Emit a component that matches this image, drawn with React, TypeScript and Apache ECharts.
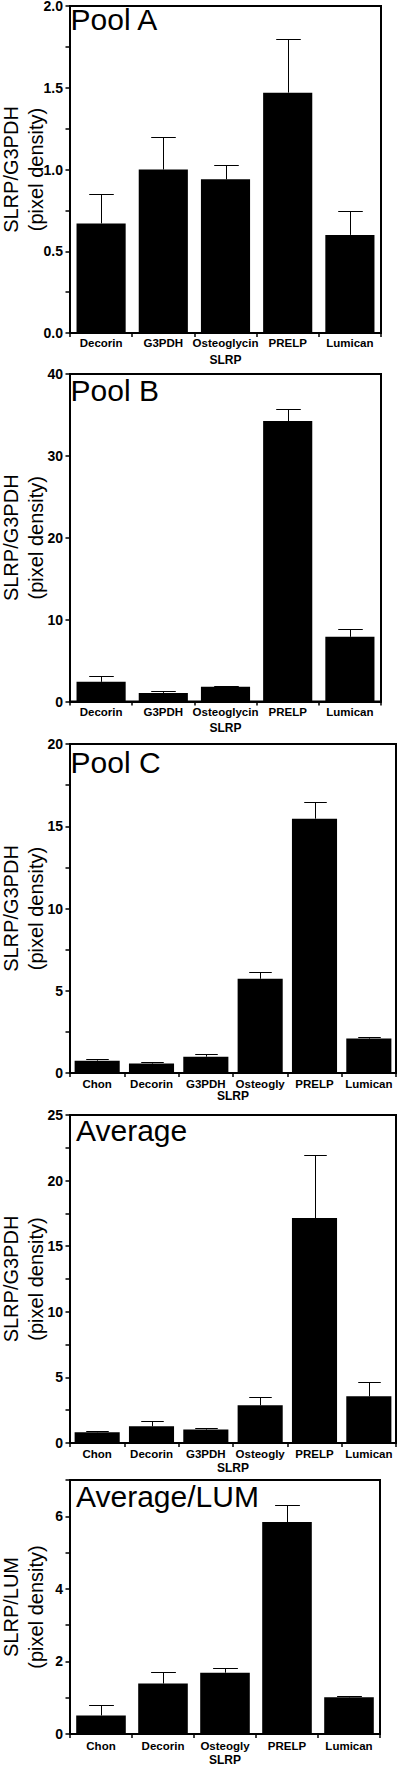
import React, { useEffect, useRef } from "react";
import * as echarts from "echarts";

const FONT = "'Liberation Sans', Arial, Helvetica, sans-serif";

// ---- data ----
const catsA = ["Decorin", "G3PDH", "Osteoglycin", "PRELP", "Lumican"];
const meanA = [0.67, 1.0, 0.94, 1.47, 0.6];
const semA = [0.18, 0.2, 0.085, 0.33, 0.145];

const catsB = ["Decorin", "G3PDH", "Osteoglycin", "PRELP", "Lumican"];
const meanB = [2.4, 1.05, 1.8, 34.25, 7.9];
const semB = [0.7, 0.2, 0.12, 1.45, 0.95];

const catsC = ["Chon", "Decorin", "G3PDH", "Osteogly", "PRELP", "Lumican"];
const meanC = [0.75, 0.57, 0.99, 5.73, 15.46, 2.09];
const semC = [0.1, 0.1, 0.16, 0.41, 1.01, 0.1];

const catsAvg = ["Chon", "Decorin", "G3PDH", "Osteogly", "PRELP", "Lumican"];
const meanAvg = [0.82, 1.27, 1.02, 2.87, 17.14, 3.56];
const semAvg = [0.07, 0.37, 0.15, 0.67, 4.78, 1.12];

const catsLum = ["Chon", "Decorin", "Osteogly", "PRELP", "Lumican"];
const meanLum = [0.51, 1.39, 1.69, 5.84, 1.01];
const semLum = [0.3, 0.32, 0.13, 0.46, 0.04];

const titles = ["Pool A", "Pool B", "Pool C", "Average", "Average/LUM"];
const yNameTop = ["SLRP/G3PDH", "SLRP/G3PDH", "SLRP/G3PDH", "SLRP/G3PDH", "SLRP/LUM"];
const yNameBottom = "(pixel density)";
const xName = "SLRP";

// axis scales
const yMax = [2, 40, 20, 25, 7];
const yStep = [0.25, 10, 2.5, 2.5, 1];
const yLabelStep = [0.5, 10, 5, 5, 2];
const yDecimals = [1, 0, 0, 0, 0];

// ---- layout ----
const panels = [
  { cats: catsA, mean: meanA, sem: semA, left: 70, top: 6, width: 311, height: 327, barW: 0.79, labelMargin: 4, nameGap: 20.5, titleX: 70.5, titleY: 4.3 },
  { cats: catsB, mean: meanB, sem: semB, left: 70, top: 374, width: 311, height: 327.5, barW: 0.79, labelMargin: 4, nameGap: 20.5, titleX: 70.5, titleY: 375 },
  { cats: catsC, mean: meanC, sem: semC, left: 70, top: 744, width: 326, height: 329, barW: 0.83, labelMargin: 5, nameGap: 16.5, titleX: 70.5, titleY: 747.6 },
  { cats: catsAvg, mean: meanAvg, sem: semAvg, left: 70, top: 1115, width: 326, height: 328, barW: 0.83, labelMargin: 5, nameGap: 18.5, titleX: 76, titleY: 1115.3 },
  { cats: catsLum, mean: meanLum, sem: semLum, left: 70, top: 1480, width: 310, height: 254, barW: 0.8, labelMargin: 5.5, nameGap: 19.5, titleX: 76, titleY: 1481 },
];

function buildOption() {
  const grid: any[] = [];
  const xAxis: any[] = [];
  const yAxis: any[] = [];
  const series: any[] = [];
  const graphic: any[] = [];

  panels.forEach((p, i) => {
    grid.push({
      left: p.left,
      top: p.top,
      width: p.width,
      height: p.height,
      show: true,
      borderColor: "#000",
      borderWidth: 2,
      backgroundColor: "transparent",
      containLabel: false,
      outerBoundsMode: "none",
    });
    xAxis.push({
      type: "category",
      gridIndex: i,
      data: p.cats,
      boundaryGap: true,
      axisLine: { show: true, lineStyle: { color: "#000", width: 2 } },
      axisTick: { show: true, length: 4, lineStyle: { color: "#000", width: 1.5 } },
      axisLabel: {
        interval: 0,
        color: "#000",
        fontSize: 11.5,
        fontWeight: "bold",
        fontFamily: FONT,
        margin: p.labelMargin,
      },
      splitLine: { show: false },
      name: xName,
      nameLocation: "middle",
      nameGap: p.nameGap,
      nameMoveOverlap: false,
      nameTextStyle: { color: "#000", fontSize: 12, fontWeight: "bold", fontFamily: FONT },
    });
    const ls = yLabelStep[i];
    const dec = yDecimals[i];
    yAxis.push({
      type: "value",
      gridIndex: i,
      min: 0,
      max: yMax[i],
      interval: yStep[i],
      axisLine: { show: true, lineStyle: { color: "#000", width: 2 } },
      axisTick: { show: true, length: 4.5, lineStyle: { color: "#000", width: 1.5 } },
      splitLine: { show: false },
      axisLabel: {
        color: "#000",
        fontSize: 14,
        fontWeight: "bold",
        fontFamily: FONT,
        margin: 7,
        formatter: (v: number) => {
          const r = v / ls;
          if (Math.abs(r - Math.round(r)) > 1e-6) return "";
          return v.toFixed(dec);
        },
      },
      name: `${yNameTop[i]}\n${yNameBottom}`,
      nameLocation: "middle",
      nameGap: 21,
      nameMoveOverlap: false,
      nameTextStyle: { color: "#000", fontSize: 20, fontFamily: FONT, lineHeight: 25.5 },
    });
    series.push({
      type: "bar",
      xAxisIndex: i,
      yAxisIndex: i,
      data: p.mean,
      barWidth: Math.round(p.barW * 100) + "%",
      itemStyle: { color: "#000" },
      silent: true,
    });
    const barRatio = p.barW;
    series.push({
      type: "custom",
      xAxisIndex: i,
      yAxisIndex: i,
      data: p.cats.map((_, k) => [k, p.mean[k], p.sem[k]]),
      encode: { x: 0, y: 1 },
      silent: true,
      z: 5,
      renderItem: (params: any, api: any) => {
        const x = api.value(0);
        const m = api.value(1);
        const e = api.value(2);
        const p0 = api.coord([x, m]);
        const p1 = api.coord([x, m + e]);
        const bw = api.size([1, 0])[0] * barRatio;
        const half = bw / 4;
        const cx = Math.round(p0[0]) + 0.5;
        const ty = Math.round(p1[1]) + 0.5;
        return {
          type: "group",
          children: [
            { type: "line", shape: { x1: cx, y1: p0[1], x2: cx, y2: ty }, style: { stroke: "#000", lineWidth: 1 } },
            { type: "line", shape: { x1: cx - half, y1: ty, x2: cx + half, y2: ty }, style: { stroke: "#000", lineWidth: 1 } },
          ],
        };
      },
    });
    graphic.push({
      type: "text",
      x: p.titleX,
      y: p.titleY,
      z: 10,
      style: {
        text: titles[i],
        fill: "#000",
        font: `30px ${FONT}`,
        verticalAlign: "top",
      },
    });
  });

  return { animation: false, backgroundColor: "#fff", grid, xAxis, yAxis, series, graphic };
}

export default function App() {
  const ref = useRef<HTMLDivElement>(null);
  useEffect(() => {
    if (!ref.current) return;
    const chart = echarts.init(ref.current, undefined, { renderer: "svg" });
    chart.setOption(buildOption() as any);
    return () => chart.dispose();
  }, []);
  return (
    <div
      ref={ref}
      style={{ position: "absolute", left: 0, top: 0, width: 399, height: 1766, background: "#fff" }}
    />
  );
}
